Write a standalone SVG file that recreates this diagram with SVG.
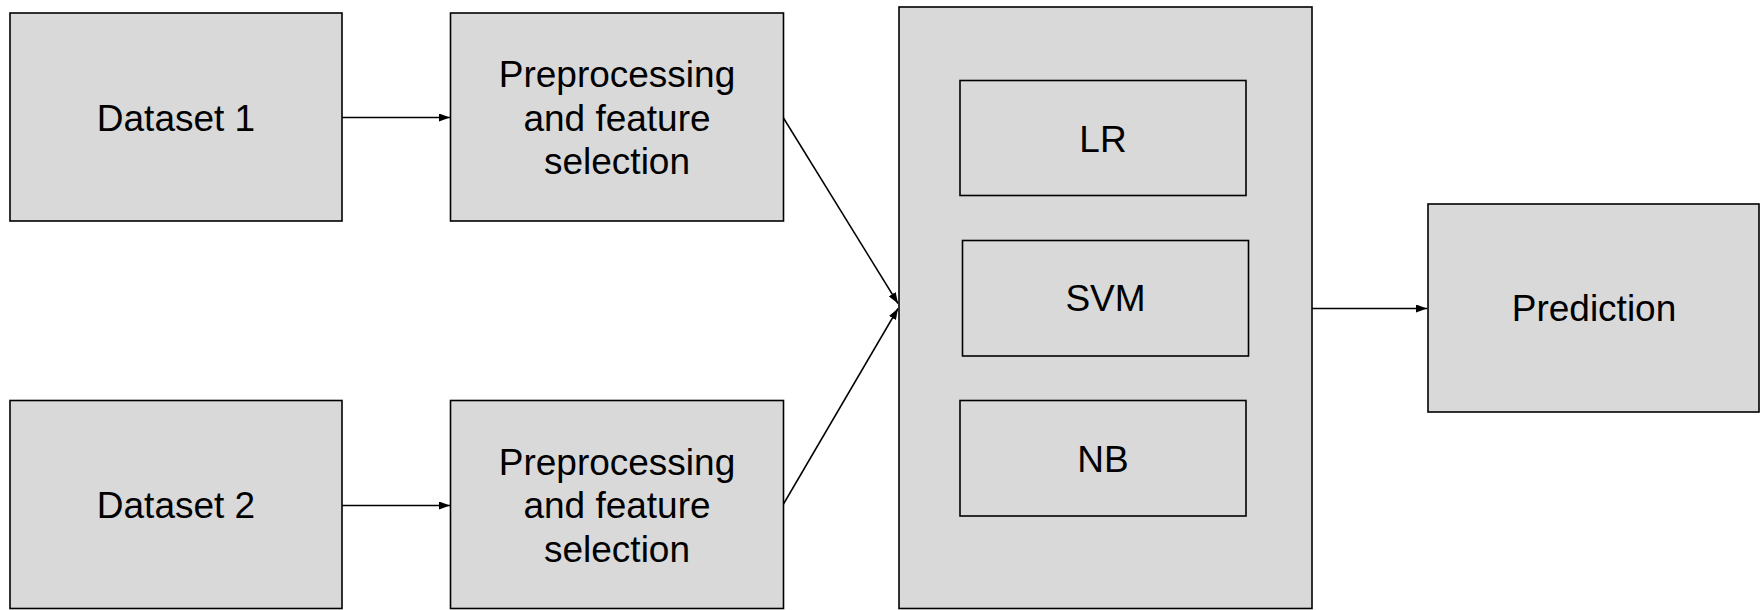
<svg xmlns="http://www.w3.org/2000/svg" width="1760" height="610" viewBox="0 0 1760 610">
<defs>
<style>
.box{fill:#d9d9d9;stroke:#000;stroke-width:1.6}
.inner{fill:#d9d9d9;stroke:#000;stroke-width:1.6}
.lbl{font-family:"Liberation Sans",Arial,sans-serif;font-size:37px;fill:#000;text-anchor:middle}
.edge{stroke:#000;stroke-width:1.5;fill:none;marker-end:url(#ah)}
</style>
<marker id="ah" viewBox="0 0 11 8" refX="11" refY="4" markerWidth="11" markerHeight="8" markerUnits="userSpaceOnUse" orient="auto">
<path d="M0,0 L11,4 L0,8 Z" fill="#000"/>
</marker>
</defs>
<rect width="1760" height="610" fill="#fff"/>
<g id="dataset1">
<rect class="box" x="10" y="13" width="332" height="208"/>
<text class="lbl" x="176" y="130.5">Dataset 1</text>
</g>
<g id="preproc1">
<rect class="box" x="450.5" y="13" width="333" height="208"/>
<text class="lbl" x="617" y="87.3">Preprocessing</text>
<text class="lbl" x="617" y="130.7">and feature</text>
<text class="lbl" x="617" y="174">selection</text>
</g>
<g id="dataset2">
<rect class="box" x="10" y="400.5" width="332" height="208"/>
<text class="lbl" x="176" y="518">Dataset 2</text>
</g>
<g id="preproc2">
<rect class="box" x="450.5" y="400.5" width="333" height="208"/>
<text class="lbl" x="617" y="475">Preprocessing</text>
<text class="lbl" x="617" y="518.3">and feature</text>
<text class="lbl" x="617" y="561.7">selection</text>
</g>
<g id="models">
<rect class="box" x="899" y="7" width="413" height="601.5"/>
</g>
<g id="lr">
<rect class="inner" x="960" y="80.5" width="286" height="115"/>
<text class="lbl" x="1103" y="151.5">LR</text>
</g>
<g id="svm">
<rect class="inner" x="962.5" y="240.5" width="286" height="115.5"/>
<text class="lbl" x="1105.5" y="311">SVM</text>
</g>
<g id="nb">
<rect class="inner" x="960" y="400.5" width="286" height="115.5"/>
<text class="lbl" x="1103" y="471.5">NB</text>
</g>
<g id="prediction">
<rect class="box" x="1428" y="204" width="331" height="208"/>
<text class="lbl" x="1594" y="321">Prediction</text>
</g>
<g id="connectors">
<line class="edge" x1="342" y1="117.5" x2="450" y2="117.5"/>
<line class="edge" x1="342" y1="505.5" x2="450" y2="505.5"/>
<line class="edge" x1="783.5" y1="118" x2="898" y2="303.5"/>
<line class="edge" x1="783.5" y1="504" x2="898" y2="308.5"/>
<line class="edge" x1="1312" y1="308.5" x2="1427" y2="308.5"/>
</g>
</svg>
